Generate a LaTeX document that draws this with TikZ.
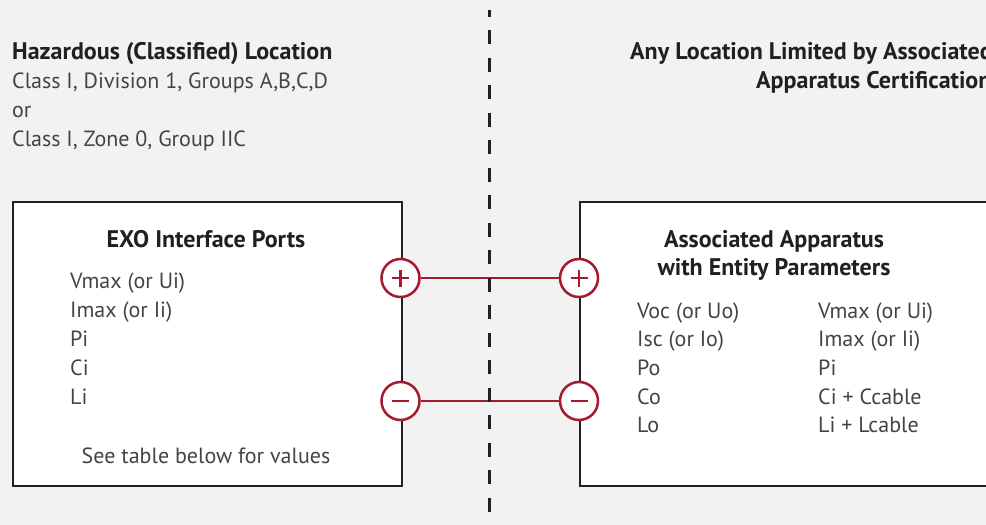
\documentclass[tikz,border=0pt]{standalone}
\usepackage{fontspec}
\setmainfont{PT Sans}
\definecolor{bg}{HTML}{F2F2F2}
\definecolor{ink}{HTML}{231F20}
\definecolor{txt}{HTML}{444444}
\definecolor{portred}{HTML}{A6192E}
\begin{document}
\begin{tikzpicture}[x=1pt,y=-1pt,
  head/.style={font=\fontsize{24}{28}\selectfont\bfseries, text=ink, inner sep=0pt},
  body/.style={font=\fontsize{22}{26}\selectfont, text=txt, inner sep=0pt},
  boxframe/.style={draw=ink, line width=2pt, fill=white, inner sep=0pt, anchor=north west, minimum height=284pt},
  port/.style={circle, draw=portred, line width=2.5pt, fill=white, minimum size=38pt, inner sep=0pt},
  sign/.style={draw=portred, line width=2.6pt},
  wire/.style={draw=portred, line width=2.5pt},
  divider/.style={draw=ink, line width=3pt, dash pattern=on 14pt off 13.5pt, dash phase=7.5pt}]
\useasboundingbox (0,0) rectangle (986,525);
\clip (0,0) rectangle (986,525);
\fill[bg] (0,0) rectangle (986,525);

% headings
\node[head, anchor=base west] (hz) at (12,59) {Hazardous (Classified) Location};
\node[body, anchor=base west] (hz1) at (12,88) {Class I, Division 1, Groups A,B,C,D};
\node[body, anchor=base west] (hz2) at (12,117) {or};
\node[body, anchor=base west] (hz3) at (12,146) {Class I, Zone 0, Group IIC};
\node[head, anchor=base west] (any1) at (630,59) {Any Location Limited by Associated};
\node[head, anchor=base west] (any2) at (756,88) {Apparatus Certification};

% boxes
\node[boxframe, minimum width=388.5pt] (exo) at (12,200.5) {};
\node[boxframe, minimum width=450pt] (aa) at (579,200.5) {};

% left box text
\node[head, anchor=base] (exot) at (206,247) {EXO Interface Ports};
\foreach \t [count=\i] in {Vmax (or Ui), Imax (or Ii), Pi, Ci, Li}
  \node[body, anchor=base west] (el\i) at (70,{288+29*(\i-1)}) {\t};
\node[body, anchor=base] (see) at (206,463) {See table below for values};

% right box text
\node[head, anchor=base] (aat1) at (774,247) {Associated Apparatus};
\node[head, anchor=base] (aat2) at (774,275) {with Entity Parameters};
\foreach \t [count=\i] in {Voc (or Uo), Isc (or Io), Po, Co, Lo}
  \node[body, anchor=base west] (ao\i) at (637,{318+28.7*(\i-1)}) {\t};
\foreach \t [count=\i] in {Vmax (or Ui), Imax (or Ii), Pi, Ci + Ccable, Li + Lcable}
  \node[body, anchor=base west] (ai\i) at (818,{318+28.7*(\i-1)}) {\t};

% ports
\node[port] (pL) at (400.5,278) {};
\node[port] (pR) at (579,278) {};
\node[port] (mL) at (400.5,401) {};
\node[port] (mR) at (579,401) {};
\foreach \p in {pL,pR} {
  \draw[sign] ([xshift=-8.5pt]\p.center) -- ([xshift=8.5pt]\p.center);
  \draw[sign] ([yshift=-8.5pt]\p.center) -- ([yshift=8.5pt]\p.center);
}
\foreach \p in {mL,mR}
  \draw[sign] ([xshift=-8.5pt]\p.center) -- ([xshift=8.5pt]\p.center);

% wires
\draw[wire] (pL) -- (pR);
\draw[wire] (mL) -- (mR);

% divider
\coordinate (dtop) at (489.5,10);
\coordinate (dbot) at (489.5,530);
\draw[divider] (dtop) -- (dbot);
\end{tikzpicture}
\end{document}
